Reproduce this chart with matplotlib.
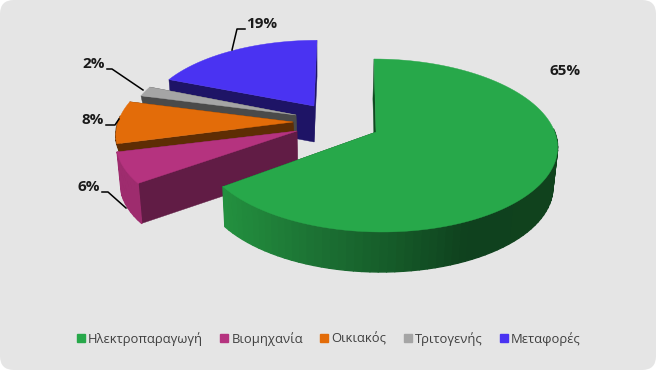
import numpy as np
from matplotlib import pyplot as plt
from matplotlib.lines import Line2D
from matplotlib.patches import FancyBboxPatch, Polygon
from matplotlib.colors import to_rgb

plt.rcParams['font.family'] = ['Open Sans', 'DejaVu Sans']

# data
labels = ['Ηλεκτροπαραγωγή', 'Βιομηχανία', 'Οικιακός', 'Τριτογενής', 'Μεταφορές']
values = [65, 6, 8, 2, 19]

# slice styles
top_colors = ['#27a84a', '#b5337f', '#e36c09', '#a5a5a5', '#4a33f2']
side_colors = ['#0f4a20', '#611c45', '#5e2d04', '#4a4a4a', '#1e1466']
wall_colors = ['#23903f', '#9e2c6e', '#5e2d04', '#4a4a4a', '#1e1466']

# where each exploded slice has its tip, and how its arc is sized and sheared
tip_x = [376, 297, 293, 296, 314]
tip_y = [132, 131, 122, 115, 106]
radius_x = [1.01, 1.02, 1.0, 0.95, 0.95]
radius_y = [1.0, 0.96, 1.0, 0.95, 0.9]
shift_x = [2, 0, 0, 0, 0]
shear_x = [-4, 0, 0, 0, 3]
# only the part of the depth that is not hidden by the slice in front
depths = [40, 40, 12, 17, 36]

# perspective of the pie
Rx = 175
Ry = 84.4
k = 0.156
vanish_x = 320
shrink = 0.98

# shading along the green outer wall
grad_x = [226, 330, 400, 470, 556]
grad_c = ['#23903f', '#1b6e32', '#155a28', '#0f411e', '#10421d']


def project(ang, i):
    u = np.sin(ang)
    v = np.cos(ang)
    w = 1 + k * v
    x = tip_x[i] + shift_x[i] + radius_x[i] * Rx * u / w + shear_x[i] * v
    y = tip_y[i] - radius_y[i] * Ry * v / w
    return x, y


def lower(x, y, d):
    return vanish_x + (np.asarray(x) - vanish_x) * shrink, np.asarray(y) + d


def wall_color(x):
    rgb = np.array([to_rgb(c) for c in grad_c])
    return [np.interp(x, grad_x, rgb[:, i]) for i in range(3)]


fig = plt.figure(figsize=(6.56, 3.70), dpi=100, facecolor='white')
ax = fig.add_axes([0, 0, 1, 1])
ax.set_xlim(0, 656)
ax.set_ylim(370, 0)
ax.axis('off')

ax.add_patch(FancyBboxPatch((12, 12), 632, 346, boxstyle='round,pad=12,rounding_size=14',
                            fc='#e5e5e5', ec='none', zorder=0))

# angles run clockwise from the top, slices are painted back to front
ends = np.cumsum(values) / sum(values) * 2 * np.pi
starts = np.concatenate([[0], ends[:-1]])
order = [4, 3, 2, 1, 0]

z = 1
for i in order:
    tx, ty = tip_x[i], tip_y[i]
    angs = np.linspace(starts[i], ends[i], max(int((ends[i] - starts[i]) * 25), 6))
    xs, ys = project(angs, i)
    bx, by = lower(xs, ys, depths[i])
    btx, bty = lower(tx, ty, depths[i])

    # cut faces
    for j in [-1, 0]:
        ax.add_patch(Polygon([(tx, ty), (xs[j], ys[j]), (bx[j], by[j]), (btx, bty)],
                             fc=side_colors[i], ec=side_colors[i], lw=0.3, zorder=z))
    # outer wall, only the part turned to the viewer
    for j in range(len(angs) - 1):
        if np.cos(angs[j]) > 0.05:
            continue
        if i == 0:
            c = wall_color(xs[j])
        else:
            c = wall_colors[i]
        ax.add_patch(Polygon([(xs[j], ys[j]), (xs[j + 1], ys[j + 1]), (bx[j + 1], by[j + 1]), (bx[j], by[j])],
                             fc=c, ec=c, lw=1.0, joinstyle='round', zorder=z))
    # top face
    ax.add_patch(Polygon(np.vstack([[tx, ty], np.column_stack([xs, ys])]),
                         fc=top_colors[i], ec=top_colors[i], lw=0.3, zorder=z))
    z += 1

# percentage labels with leader lines
label_xy = [(565, 71), (89, 187), (93, 120), (94, 64), (262, 24)]
leaders = [None,
           [(102, 192), (108, 192), (126, 208)],
           [(106, 125), (115, 125), (119, 119)],
           [(107, 69), (112, 69), (143, 90)],
           [(232, 50), (237, 29), (245, 29)]]
for i in range(len(values)):
    ax.text(label_xy[i][0], label_xy[i][1], '%d%%' % values[i], fontsize=11, fontweight='bold',
            color='#1a1a1a', ha='center', va='center', zorder=20)
    if leaders[i] is not None:
        ax.plot(*zip(*leaders[i]), color='black', lw=1.1, zorder=20)

handles = [Line2D([], [], ls='none', marker='s', ms=6, color=c) for c in top_colors]
ax.legend(handles, labels, ncol=5, loc='center', bbox_to_anchor=(328.5 / 656, 1 - 339 / 370),
          frameon=False, fontsize=9.4, labelcolor='#404040', handlelength=0.7, handletextpad=0.2,
          columnspacing=1.28, borderpad=0)

plt.savefig('out.png', dpi=100)
